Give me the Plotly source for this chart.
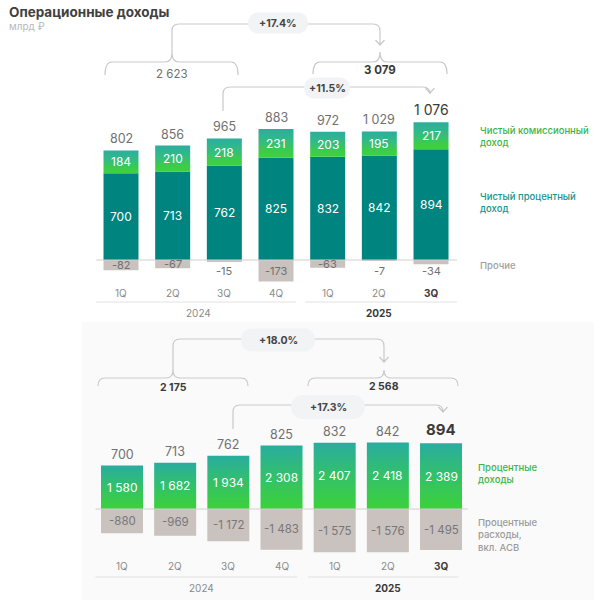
import plotly.graph_objects as go

W, H = 594, 600

# ---------------- data ----------------
quarters = ["1Q", "2Q", "3Q", "4Q", "1Q", "2Q", "3Q"]
years = ["2024", "2025"]

nii = [700, 713, 762, 825, 832, 842, 894]            # Чистый процентный доход
fee = [184, 210, 218, 231, 203, 195, 217]            # Чистый комиссионный доход
other = [-82, -67, -15, -173, -63, -7, -34]          # Прочие
op_income = [802, 856, 965, 883, 972, 1029, 1076]    # Операционные доходы

int_income = [1580, 1682, 1934, 2308, 2407, 2418, 2389]          # Процентные доходы
int_expense = [-880, -969, -1172, -1483, -1575, -1576, -1495]    # Процентные расходы
nii_bottom = [700, 713, 762, 825, 832, 842, 894]

top_sums = ["2 623", "3 079"]
top_growth = ["+17.4%", "+11.5%"]
bottom_sums = ["2 175", "2 568"]
bottom_growth = ["+18.0%", "+17.3%"]

# ---------------- styling ----------------
FONT = "Inter"
TEAL = "#00847f"
GREY_BAR = "#c9c2bf"
LABEL = "#707070"
DARK = "#3a3a3a"
LINE = "#c9c9c9"


def fmt(v):
    s = f"{abs(v):,}".replace(",", " ")
    return ("-" if v < 0 else "") + s


def PX(x):
    return x / W


def PY(y):
    return 1 - y / H


def P(pt):
    return f"{PX(pt[0]):.5f},{PY(pt[1]):.5f}"


def build_path(cmds):
    out = []
    for c in cmds:
        out.append(c[0] + " " + " ".join(P(p) for p in c[1:]))
    return " ".join(out)


def bracket(x0, x1, xc, y_end, y_top, y_peak, r=7):
    return build_path([
        ("M", (x0, y_end)),
        ("Q", (x0, y_top), (x0 + r, y_top)),
        ("L", (xc - r, y_top)),
        ("Q", (xc, y_top), (xc, y_peak)),
        ("Q", (xc, y_top), (xc + r, y_top)),
        ("L", (x1 - r, y_top)),
        ("Q", (x1, y_top), (x1, y_end)),
    ])


def connector(xs, ys, yh, xe, ye, r=7):
    return build_path([
        ("M", (xs, ys)),
        ("L", (xs, yh + r)),
        ("Q", (xs, yh), (xs + r, yh)),
        ("L", (xe - r, yh)),
        ("Q", (xe, yh), (xe, yh + r)),
        ("L", (xe, ye)),
        ("M", (xe - 4.5, ye - 5)),
        ("L", (xe, ye)),
        ("L", (xe + 4.5, ye - 5)),
    ])


def pill(xc, yc, w, h):
    r = h / 2
    x0, x1, y0, y1 = xc - w / 2, xc + w / 2, yc - h / 2, yc + h / 2
    return build_path([
        ("M", (x0 + r, y0)),
        ("L", (x1 - r, y0)),
        ("C", (x1 + r * 0.33, y0), (x1 + r * 0.33, y1), (x1 - r, y1)),
        ("L", (x0 + r, y1)),
        ("C", (x0 - r * 0.33, y1), (x0 - r * 0.33, y0), (x0 + r, y0)),
    ]) + " Z"


def label(px, py, text, size, color, xanchor="center", yanchor="middle", align="center", weight=None):
    f = dict(family=FONT, size=size, color=color)
    if weight:
        f["weight"] = weight
    return dict(x=PX(px), y=PY(py), xref="paper", yref="paper", text=text, showarrow=False,
                xanchor=xanchor, yanchor=yanchor, align=align, font=f)


# ---------------- axes geometry ----------------
T_X0, T_DX = 121, 51.67
T_Z, T_S = 260, 0.124
B_X0, B_DX = 122, 53.17
B_Z, B_S = 509, 0.0275
SPLIT = 320

t_bw = 35 / T_DX
b_bw = 42 / B_DX
xs = list(range(len(quarters)))

fig = go.Figure()

# ---- top chart traces ----
fig.add_trace(go.Bar(x=xs, y=nii, base=0, width=t_bw, marker=dict(color=TEAL, line=dict(width=0)),
                     xaxis="x", yaxis="y", hoverinfo="skip", showlegend=False))
fig.add_trace(go.Bar(x=xs, y=other, base=0, width=t_bw, marker=dict(color=GREY_BAR, line=dict(width=0)),
                     xaxis="x", yaxis="y", hoverinfo="skip", showlegend=False))
for i, (b, v) in enumerate(zip(nii, fee)):
    fig.add_trace(go.Scatter(
        x=[i - t_bw / 2, i + t_bw / 2, i + t_bw / 2, i - t_bw / 2, i - t_bw / 2],
        y=[b, b, b + v, b + v, b],
        mode="lines", line=dict(width=0), fill="toself",
        fillgradient=dict(type="vertical",
                          colorscale=[[0, "#3dd23e"], [0.2, "#3ccd48"], [0.55, "#34bc80"], [1, "#2aae9f"]]),
        xaxis="x", yaxis="y", hoverinfo="skip", showlegend=False))

# ---- bottom chart traces ----
fig.add_trace(go.Bar(x=xs, y=int_expense, base=0, width=b_bw, marker=dict(color=GREY_BAR, line=dict(width=0)),
                     xaxis="x2", yaxis="y2", hoverinfo="skip", showlegend=False))
for i, v in enumerate(int_income):
    fig.add_trace(go.Scatter(
        x=[i - b_bw / 2, i + b_bw / 2, i + b_bw / 2, i - b_bw / 2, i - b_bw / 2],
        y=[0, 0, v, v, 0],
        mode="lines", line=dict(width=0), fill="toself",
        fillgradient=dict(type="vertical",
                          colorscale=[[0, "#3bd23a"], [0.35, "#36c65a"], [1, "#29ad9f"]]),
        xaxis="x2", yaxis="y2", hoverinfo="skip", showlegend=False))

ann = []
shapes = []

shapes.append(dict(type="rect", xref="paper", yref="paper", x0=PX(82), x1=1, y0=0, y1=PY(322),
                   fillcolor="#fafafa", line=dict(width=0), layer="below"))

# ---- top labels ----
for i in xs:
    ann.append(dict(x=i, y=nii[i] / 2, xref="x", yref="y", text=fmt(nii[i]), showarrow=False,
                    xanchor="center", yanchor="middle",
                    font=dict(family=FONT, size=12, color="white")))
    ann.append(dict(x=i, y=nii[i] + fee[i] / 2, xref="x", yref="y", text=fmt(fee[i]), showarrow=False,
                    xanchor="center", yanchor="middle",
                    font=dict(family=FONT, size=12, color="white")))
    oy = other[i] / 2 if abs(other[i]) >= 50 else -85
    ann.append(dict(x=i, y=oy, xref="x", yref="y", text=fmt(other[i]), showarrow=False,
                    xanchor="center", yanchor="middle",
                    font=dict(family=FONT, size=11, color=LABEL)))
    last = i == len(xs) - 1
    ann.append(dict(x=i, y=nii[i] + fee[i], xref="x", yref="y", text=fmt(op_income[i]), showarrow=False,
                    xanchor="center", yanchor="bottom", yshift=2,
                    font=dict(family=FONT, size=14 if last else 12.5, color=DARK if last else LABEL)))
    ann.append(dict(x=i, y=PY(293), xref="x", yref="paper",
                    text=("<b>" + quarters[i] + "</b>") if last else quarters[i], showarrow=False,
                    xanchor="center", yanchor="middle",
                    font=dict(family=FONT, size=10, color=DARK if last else "#8a8a8a")))

shapes.append(dict(type="line", xref="x", yref="y", x0=-0.48, x1=6.5, y0=0, y1=0,
                   line=dict(color="#cfcfcf", width=1)))
shapes.append(dict(type="line", xref="x", yref="paper", x0=-0.48, x1=3.39, y0=PY(302), y1=PY(302),
                   line=dict(color="#e2e2e2", width=1)))
shapes.append(dict(type="line", xref="x", yref="paper", x0=3.57, x1=6.5, y0=PY(302), y1=PY(302),
                   line=dict(color="#e2e2e2", width=1)))
ann.append(dict(x=1.5, y=PY(313), xref="x", yref="paper", text=years[0], showarrow=False,
                xanchor="center", yanchor="middle",
                font=dict(family=FONT, size=10, color="#8a8a8a")))
ann.append(dict(x=5, y=PY(313), xref="x", yref="paper", text="<b>" + years[1] + "</b>", showarrow=False,
                xanchor="center", yanchor="middle",
                font=dict(family=FONT, size=10, color=DARK)))

ann.append(label(478, 136, "Чистый комиссионный<br>доход", 9.5, "#3ab54a", xanchor="left", align="left", weight=500))
ann.append(label(478, 202, "Чистый процентный<br>доход", 9.5, "#16948f", xanchor="left", align="left", weight=500))
ann.append(label(478, 265, "Прочие", 9.5, "#a0a0a0", xanchor="left", align="left", weight=500))

ann.append(label(7, 2, "<b>Операционные доходы</b>", 13.5, "#404040", xanchor="left", yanchor="top"))
ann.append(label(7, 18, "млрд ₽", 10, "#b8b8b8", xanchor="left", yanchor="top"))

line_style = dict(color=LINE, width=1.2)
for p in [bracket(105, 238, 172, 75, 62, 53), bracket(313, 447, 380, 74, 62, 52),
          connector(172, 53, 24, 380, 45), connector(223, 111, 87, 430, 93)]:
    shapes.append(dict(type="path", xref="paper", yref="paper", path=p, line=line_style))
for (cx, cy, w, h) in [(278, 23, 60, 21), (327, 88, 46, 21)]:
    shapes.append(dict(type="path", xref="paper", yref="paper", path=pill(cx, cy, w, h),
                       fillcolor="#f2f3f5", line=dict(width=0)))
ann.append(label(278, 23, "<b>" + top_growth[0] + "</b>", 10.5, "#454545"))
ann.append(label(327, 88, "<b>" + top_growth[1] + "</b>", 10.5, "#454545"))
ann.append(label(172, 74, top_sums[0], 11.5, LABEL))
ann.append(label(380, 70, "<b>" + top_sums[1] + "</b>", 11.5, DARK))

# ---- bottom labels ----
for i in xs:
    ann.append(dict(x=i, y=int_income[i] / 2, xref="x2", yref="y2", text=fmt(int_income[i]), showarrow=False,
                    xanchor="center", yanchor="middle",
                    font=dict(family=FONT, size=12, color="white")))
    ann.append(dict(x=i, y=int_expense[i] / 2, xref="x2", yref="y2", text=fmt(int_expense[i]), showarrow=False,
                    xanchor="center", yanchor="middle",
                    font=dict(family=FONT, size=11.5, color="#777777")))
    last = i == len(xs) - 1
    ann.append(dict(x=i, y=int_income[i], xref="x2", yref="y2",
                    text=("<b>" + fmt(nii_bottom[i]) + "</b>") if last else fmt(nii_bottom[i]),
                    showarrow=False, xanchor="center", yanchor="bottom", yshift=2,
                    font=dict(family=FONT, size=15 if last else 12.5, color=DARK if last else LABEL)))
    ann.append(dict(x=i, y=PY(566), xref="x2", yref="paper",
                    text=("<b>" + quarters[i] + "</b>") if last else quarters[i], showarrow=False,
                    xanchor="center", yanchor="middle",
                    font=dict(family=FONT, size=10, color=DARK if last else "#8a8a8a")))

shapes.append(dict(type="line", xref="x2", yref="y2", x0=-0.5, x1=6.5, y0=0, y1=0,
                   line=dict(color="#cfcfcf", width=1.2)))
shapes.append(dict(type="line", xref="x2", yref="paper", x0=-0.5, x1=3.3, y0=PY(577), y1=PY(577),
                   line=dict(color="#e2e2e2", width=1)))
shapes.append(dict(type="line", xref="x2", yref="paper", x0=3.5, x1=6.33, y0=PY(577), y1=PY(577),
                   line=dict(color="#e2e2e2", width=1)))
ann.append(dict(x=1.5, y=PY(588), xref="x2", yref="paper", text=years[0], showarrow=False,
                xanchor="center", yanchor="middle",
                font=dict(family=FONT, size=10, color="#8a8a8a")))
ann.append(dict(x=5, y=PY(588), xref="x2", yref="paper", text="<b>" + years[1] + "</b>", showarrow=False,
                xanchor="center", yanchor="middle",
                font=dict(family=FONT, size=10, color=DARK)))

ann.append(label(476, 473, "Процентные<br>доходы", 9.5, "#3ab54a", xanchor="left", align="left", weight=500))
ann.append(label(476, 535, "Процентные<br>расходы,<br>вкл. АСВ", 9.5, "#9a9a9a", xanchor="left", align="left",
                 weight=500))

for p in [bracket(98, 248, 173, 386, 378, 370), bracket(308, 458, 384, 386, 378, 370),
          connector(173, 370, 339, 384, 362), connector(233, 429, 405, 443, 412)]:
    shapes.append(dict(type="path", xref="paper", yref="paper", path=p, line=line_style))
for (cx, cy, w, h) in [(278, 340, 74, 23), (328, 407, 74, 24)]:
    shapes.append(dict(type="path", xref="paper", yref="paper", path=pill(cx, cy, w, h),
                       fillcolor="#f2f3f5", line=dict(width=0)))
ann.append(label(278, 340, "<b>" + bottom_growth[0] + "</b>", 10.5, "#454545"))
ann.append(label(328, 407, "<b>" + bottom_growth[1] + "</b>", 10.5, "#454545"))
ann.append(label(173, 388, "<b>" + bottom_sums[0] + "</b>", 10.5, DARK))
ann.append(label(384, 386, "<b>" + bottom_sums[1] + "</b>", 10.5, DARK))

dom_split = 1 - SPLIT / H
fig.update_layout(
    width=W, height=H, margin=dict(l=0, r=0, t=0, b=0),
    paper_bgcolor="white", plot_bgcolor="rgba(0,0,0,0)",
    barmode="overlay", showlegend=False,
    font=dict(family=FONT),
    xaxis=dict(domain=[0, 1], range=[-T_X0 / T_DX, (W - T_X0) / T_DX], visible=False, fixedrange=True,
               anchor="y"),
    yaxis=dict(domain=[dom_split, 1], range=[-(SPLIT - T_Z) / T_S, T_Z / T_S], visible=False,
               fixedrange=True, anchor="x"),
    xaxis2=dict(domain=[0, 1], range=[-B_X0 / B_DX, (W - B_X0) / B_DX], visible=False, fixedrange=True,
                anchor="y2"),
    yaxis2=dict(domain=[0, dom_split], range=[-(H - B_Z) / B_S, (B_Z - SPLIT) / B_S], visible=False,
                fixedrange=True, anchor="x2"),
    annotations=ann, shapes=shapes,
)

fig.write_html("out.html", config={"displayModeBar": False},
               post_script="document.body.style.margin='0px'; document.body.style.overflow='hidden';")
